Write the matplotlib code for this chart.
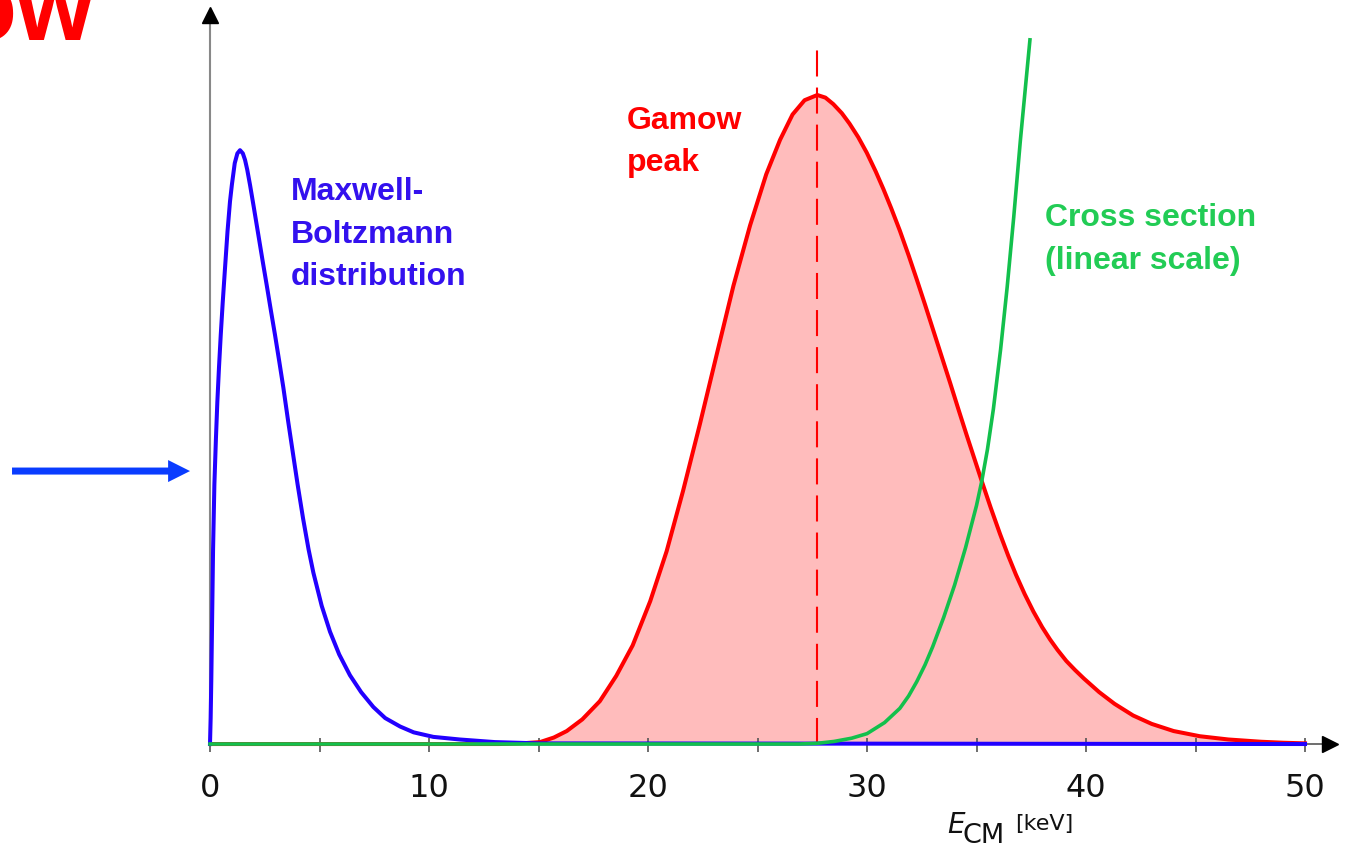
"""
Gamow peak sketch: Maxwell-Boltzmann distribution, cross section and their product.
Values read off the reference picture (arbitrary units, peak of Gamow curve = 1).
"""

import matplotlib.pyplot as plt

# -----------------------------
# Data
# -----------------------------
mb_energy = [0, 0.03, 0.06, 0.10, 0.14, 0.20, 0.27, 0.335, 0.41, 0.49, 0.58, 0.685,
             0.80, 0.913, 1.0, 1.13, 1.25, 1.37, 1.50, 1.60, 1.70, 1.83, 2.0, 2.21,
             2.40, 2.59, 2.78, 2.97, 3.16, 3.35, 3.57, 3.80, 4.0, 4.25, 4.50, 4.72,
             5.10, 5.48, 5.90, 6.39, 6.90, 7.46, 8.0, 8.68, 9.3, 10.2, 11.4, 13.0,
             15.0, 50.0]
mb_value = [0, 0.04, 0.10, 0.20, 0.30, 0.40, 0.47, 0.527, 0.58, 0.63, 0.68, 0.733,
            0.79, 0.836, 0.862, 0.895, 0.910, 0.915, 0.910, 0.900, 0.885, 0.861,
            0.827, 0.784, 0.745, 0.707, 0.668, 0.630, 0.590, 0.549, 0.497, 0.445,
            0.400, 0.3475, 0.300, 0.264, 0.213, 0.173, 0.138, 0.106, 0.080, 0.057,
            0.040, 0.027, 0.018, 0.011, 0.007, 0.003, 0.001, 0]

gamow_energy = [0, 10.0, 13.2, 14.2, 15.07, 15.7, 16.29, 17.0, 17.8, 18.55, 19.3,
                20.1, 20.85, 21.6, 22.37, 23.15, 23.9, 24.66, 25.4, 26.03, 26.6,
                27.15, 27.73, 28.1, 28.46, 28.85, 29.2, 29.6, 29.99, 30.4, 30.75,
                31.1, 31.5, 31.9, 32.27, 32.65, 33.03, 33.4, 33.8, 34.2, 34.55,
                34.9, 35.24, 35.65, 36.07, 36.45, 36.8, 37.2, 37.6, 38.0, 38.36,
                38.7, 39.1, 39.5, 39.9, 40.6, 41.3, 42.15, 43.0, 44.0, 45.2, 46.5,
                48.0, 49.0, 50.0]
gamow_value = [0, 0, 0, 0.001, 0.003, 0.010, 0.020, 0.038, 0.066, 0.105, 0.152,
               0.220, 0.297, 0.390, 0.493, 0.602, 0.706, 0.799, 0.878, 0.931, 0.970,
               0.992, 1.0, 0.996, 0.986, 0.972, 0.956, 0.935, 0.911, 0.882, 0.855,
               0.826, 0.791, 0.753, 0.716, 0.677, 0.637, 0.598, 0.556, 0.513, 0.476,
               0.440, 0.405, 0.364, 0.324, 0.290, 0.261, 0.231, 0.204, 0.180, 0.161,
               0.145, 0.128, 0.114, 0.101, 0.080, 0.062, 0.044, 0.031, 0.020, 0.012,
               0.007, 0.0035, 0.002, 0.001]

xs_energy = [0, 26.9, 27.7, 28.5, 29.3, 30.0, 30.8, 31.5, 31.9, 32.27, 32.65, 33.0,
             33.5, 34.0, 34.5, 35.0, 35.24, 35.5, 35.77, 36.1, 36.4, 36.7, 37.0,
             37.44]
xs_value = [0, 0, 0.001, 0.004, 0.009, 0.016, 0.033, 0.055, 0.074, 0.096, 0.122,
            0.150, 0.195, 0.245, 0.3025, 0.3675, 0.405, 0.454, 0.516, 0.608, 0.704,
            0.812, 0.929, 1.085]

peak_energy = 27.7
tick_pos = [0, 5, 10, 15, 20, 25, 30, 35, 40, 45, 50]
tick_labels = ['0', '10', '20', '30', '40', '50']

# -----------------------------
# Colours
# -----------------------------
BLUE = '#2200ff'
BLUE_TXT = '#3311ee'
RED = '#ff0000'
RED_FILL = '#ffbcbc'
GREEN = '#12c04c'
GREEN_TXT = '#22cc55'
ARROW_BLUE = '#0a3cff'

# -----------------------------
# Figure: one axes covering the whole canvas
# -----------------------------
fig = plt.figure(figsize=(13.45, 8.48), dpi=100)
ax = fig.add_axes([0, 0, 1, 1])
ax.set_xlim(-9.589, 51.826)
ax.set_ylim(-0.1602, 1.1464)
ax.axis('off')

# axes with arrows
ax.plot([0, 50.8], [0, 0], color='#555555', lw=1.2, zorder=2)
ax.plot([0, 0], [0, 1.11], color='#888888', lw=1.5, zorder=2)
ax.plot([51.14], [0], marker='>', ms=11, color='black', zorder=6)
ax.plot([0], [1.1233], marker='^', ms=11, color='black', zorder=6)
ax.vlines(tick_pos, -0.0123, 0.0092, color='#555555', lw=1.2, zorder=2)
for lab in tick_labels:
    ax.text(float(lab), -0.0817, lab, ha='center', va='baseline',
            fontsize=23, family='DejaVu Sans', color='#111111')

# curves
ax.fill_between(gamow_energy, gamow_value, 0, color=RED_FILL, lw=0, zorder=1)
ax.plot(gamow_energy, gamow_value, color=RED, lw=2.9, zorder=3,
        solid_joinstyle='round')
ax.plot(mb_energy, mb_value, color=BLUE, lw=2.9, zorder=4, solid_joinstyle='round')
ax.plot(xs_energy, xs_value, color=GREEN, lw=2.6, zorder=5, solid_joinstyle='round')
ax.plot([peak_energy, peak_energy], [0, 1.072], color=RED, lw=1.5,
        linestyle=(0, (12.5, 5.3)), zorder=3)

# labels
bold = dict(fontsize=23, fontweight='bold', family='Liberation Sans', va='baseline')
for i, line in enumerate(['Maxwell-', 'Boltzmann', 'distribution']):
    ax.text(3.70, 0.838 - i * 0.0655, line, color=BLUE_TXT, **bold)
for i, line in enumerate(['Gamow', 'peak']):
    ax.text(19.04, 0.948 - i * 0.0655, line, color=RED, **bold)
for i, line in enumerate(['Cross section', '(linear scale)']):
    ax.text(38.13, 0.798 - i * 0.0655, line, color=GREEN_TXT, **bold)

ax.text(-5.30, 1.085, 'ow', color=RED, fontsize=72, fontweight='bold',
        family='Liberation Sans', ha='right', va='baseline')

# axis label E_CM [keV]
ax.text(33.65, -0.137, 'E', fontsize=20, fontstyle='italic',
        family='DejaVu Sans', va='baseline', color='#111111')
ax.text(34.34, -0.1525, 'CM', fontsize=19.5, family='DejaVu Sans',
        va='baseline', color='#111111')
ax.text(36.76, -0.1325, '[keV]', fontsize=16, family='DejaVu Sans',
        va='baseline', color='#111111')

# blue pointer arrow on the left
ax.arrow(-9.04, 0.4206, 8.127, 0, width=0.0108, head_width=0.0339,
         head_length=1.0, length_includes_head=True, color=ARROW_BLUE, lw=0)

fig.savefig('out.png', dpi=100)
